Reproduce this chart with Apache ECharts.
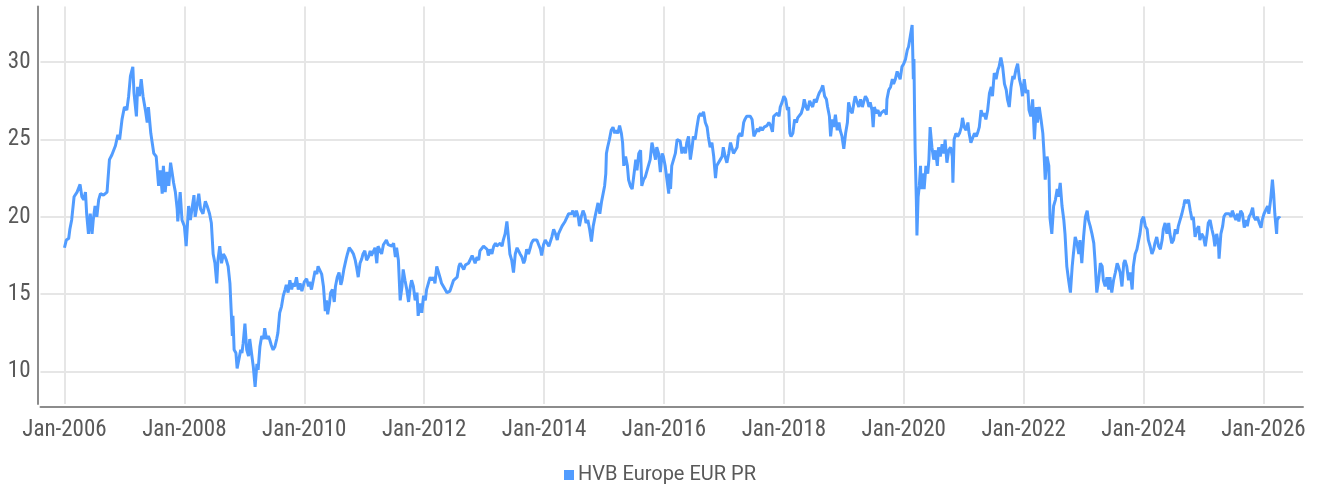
<!DOCTYPE html>
<html>
<head>
<meta charset="utf-8">
<script src="https://cdn.jsdelivr.net/npm/echarts@6/dist/echarts.min.js"></script>
<style>
html,body{margin:0;padding:0;background:#fff;}
#chart{width:1318px;height:491px;}
</style>
</head>
<body>
<div id="chart"></div>
<script>
const dates = [
2006.00,2006.03,2006.07,2006.09,2006.12,2006.16,2006.21,2006.26,2006.29,2006.32,2006.35,2006.37,2006.40,2006.43,2006.46,2006.48,2006.51,2006.54,2006.57,2006.60,2006.65,2006.71,2006.75,2006.79,2006.85,2006.89,2006.92,2006.96,
2007.00,2007.04,2007.07,2007.10,2007.14,2007.16,2007.20,2007.22,2007.25,2007.28,2007.31,2007.35,2007.38,2007.40,2007.44,2007.49,2007.53,2007.57,2007.60,2007.63,2007.65,2007.68,2007.71,2007.74,2007.77,2007.79,2007.82,2007.85,2007.88,2007.89,2007.93,2007.96,
2008.00,2008.03,2008.07,2008.10,2008.16,2008.18,2008.21,2008.24,2008.27,2008.31,2008.35,2008.38,2008.42,2008.45,2008.48,2008.51,2008.54,2008.56,2008.59,2008.62,2008.65,2008.68,2008.70,2008.73,2008.76,2008.78,2008.80,2008.81,2008.83,2008.86,2008.88,2008.91,2008.94,2008.96,2008.98,
2009.01,2009.04,2009.07,2009.09,2009.12,2009.15,2009.18,2009.21,2009.23,2009.26,2009.29,2009.32,2009.34,2009.37,2009.40,2009.42,2009.45,2009.48,2009.51,2009.54,2009.56,2009.59,2009.62,2009.65,2009.68,2009.70,2009.73,2009.76,2009.79,2009.81,2009.84,2009.87,2009.90,2009.93,2009.96,
2010.00,2010.04,2010.07,2010.09,2010.12,2010.15,2010.18,2010.21,2010.23,2010.26,2010.29,2010.32,2010.35,2010.37,2010.39,2010.42,2010.44,2010.47,2010.50,2010.52,2010.55,2010.58,2010.61,2010.63,2010.66,2010.70,2010.72,2010.75,2010.79,2010.82,2010.85,2010.87,2010.90,2010.93,2010.96,2010.98,
2011.01,2011.04,2011.07,2011.10,2011.12,2011.15,2011.18,2011.21,2011.23,2011.26,2011.29,2011.32,2011.35,2011.37,2011.40,2011.46,2011.49,2011.52,2011.54,2011.57,2011.60,2011.63,2011.65,2011.68,2011.71,2011.74,2011.77,2011.79,2011.82,2011.85,2011.88,2011.90,2011.93,2011.96,2011.99,
2012.02,2012.04,2012.07,2012.10,2012.13,2012.16,2012.18,2012.21,2012.24,2012.27,2012.29,2012.32,2012.35,2012.38,2012.41,2012.43,2012.46,2012.49,2012.52,2012.55,2012.58,2012.60,2012.63,2012.66,2012.69,2012.71,2012.74,2012.77,2012.80,2012.82,2012.85,2012.88,2012.91,2012.93,2012.96,2012.99,
2013.02,2013.05,2013.07,2013.10,2013.13,2013.16,2013.19,2013.21,2013.24,2013.27,2013.30,2013.32,2013.35,2013.38,2013.41,2013.43,2013.46,2013.49,2013.52,2013.55,2013.57,2013.60,2013.63,2013.66,2013.68,2013.71,2013.74,2013.77,2013.79,2013.82,2013.85,2013.88,2013.91,2013.94,2013.96,2013.99,
2014.02,2014.05,2014.08,2014.10,2014.13,2014.16,2014.19,2014.22,2014.24,2014.27,2014.30,2014.33,2014.35,2014.38,2014.41,2014.46,2014.48,2014.51,2014.54,2014.57,2014.59,2014.62,2014.65,2014.68,2014.70,2014.73,2014.76,2014.79,2014.82,2014.85,2014.87,2014.90,2014.93,2014.96,2014.98,
2015.01,2015.03,2015.04,2015.06,2015.09,2015.12,2015.15,2015.18,2015.20,2015.23,2015.26,2015.29,2015.31,2015.33,2015.36,2015.39,2015.41,2015.44,2015.47,2015.50,2015.53,2015.55,2015.58,2015.61,2015.63,2015.66,2015.69,2015.71,2015.74,2015.77,2015.80,2015.83,2015.86,2015.88,2015.91,2015.94,2015.97,2015.99,
2016.02,2016.05,2016.08,2016.09,2016.11,2016.13,2016.16,2016.19,2016.22,2016.24,2016.27,2016.30,2016.33,2016.36,2016.38,2016.41,2016.44,2016.47,2016.49,2016.52,2016.55,2016.58,2016.61,2016.63,2016.66,2016.69,2016.72,2016.74,2016.77,2016.80,2016.83,2016.86,2016.88,2016.91,2016.94,2016.97,2016.99,
2017.02,2017.05,2017.08,2017.11,2017.13,2017.16,2017.19,2017.22,2017.24,2017.27,2017.30,2017.33,2017.35,2017.38,2017.41,2017.44,2017.47,2017.50,2017.53,2017.56,2017.58,2017.61,2017.64,2017.67,2017.69,2017.72,2017.75,2017.78,2017.81,2017.83,2017.86,2017.89,2017.92,2017.94,2017.97,
2018.00,2018.03,2018.06,2018.08,2018.10,2018.12,2018.15,2018.18,2018.21,2018.23,2018.26,2018.29,2018.32,2018.34,2018.37,2018.40,2018.43,2018.46,2018.48,2018.51,2018.54,2018.57,2018.59,2018.62,2018.65,2018.68,2018.71,2018.73,2018.76,2018.78,2018.81,2018.83,2018.86,2018.89,2018.92,2018.94,2018.97,
2019.00,2019.03,2019.06,2019.08,2019.11,2019.14,2019.17,2019.19,2019.22,2019.25,2019.28,2019.31,2019.33,2019.36,2019.39,2019.42,2019.44,2019.47,2019.49,2019.51,2019.54,2019.57,2019.60,2019.62,2019.65,2019.68,2019.71,2019.72,2019.75,2019.78,2019.81,2019.83,2019.86,2019.89,2019.92,2019.94,2019.97,
2020.00,2020.03,2020.06,2020.08,2020.11,2020.14,2020.16,2020.17,2020.18,2020.19,2020.21,2020.22,2020.24,2020.26,2020.28,2020.29,2020.31,2020.34,2020.37,2020.40,2020.42,2020.44,2020.47,2020.50,2020.53,2020.56,2020.58,2020.61,2020.64,2020.67,2020.69,2020.72,2020.75,2020.78,2020.81,2020.82,2020.84,2020.87,2020.90,2020.93,2020.96,2020.98,
2021.01,2021.04,2021.07,2021.09,2021.12,2021.15,2021.18,2021.21,2021.23,2021.26,2021.29,2021.32,2021.34,2021.37,2021.40,2021.43,2021.46,2021.48,2021.51,2021.54,2021.57,2021.59,2021.62,2021.65,2021.68,2021.71,2021.73,2021.76,2021.79,2021.82,2021.84,2021.87,2021.90,2021.93,2021.96,2021.98,
2022.01,2022.04,2022.07,2022.09,2022.12,2022.15,2022.18,2022.21,2022.23,2022.26,2022.29,2022.32,2022.34,2022.36,2022.39,2022.42,2022.44,2022.47,2022.50,2022.53,2022.56,2022.58,2022.61,2022.64,2022.67,2022.69,2022.72,2022.75,2022.78,2022.81,2022.83,2022.86,2022.89,2022.92,2022.94,2022.97,
2023.00,2023.03,2023.06,2023.08,2023.11,2023.14,2023.17,2023.19,2023.22,2023.25,2023.28,2023.31,2023.33,2023.36,2023.39,2023.42,2023.44,2023.47,2023.50,2023.53,2023.56,2023.58,2023.61,2023.64,2023.67,2023.69,2023.72,2023.75,2023.78,2023.81,2023.83,2023.86,2023.89,2023.92,2023.94,2023.97,
2024.00,2024.03,2024.06,2024.08,2024.11,2024.14,2024.17,2024.19,2024.22,2024.25,2024.28,2024.31,2024.33,2024.36,2024.39,2024.42,2024.44,2024.47,2024.50,2024.53,2024.56,2024.58,2024.61,2024.64,2024.67,2024.69,2024.72,2024.75,2024.78,2024.81,2024.83,2024.86,2024.89,2024.92,2024.94,2024.97,
2025.00,2025.03,2025.06,2025.08,2025.11,2025.14,2025.17,2025.19,2025.22,2025.25,2025.26,2025.29,2025.32,2025.34,2025.37,2025.40,2025.43,2025.46,2025.48,2025.51,2025.54,2025.57,2025.59,2025.62,2025.65,2025.68,2025.71,2025.73,2025.76,2025.79,2025.82,2025.84,2025.87,2025.90,2025.93,2025.96,2025.98,
2026.01,2026.04,2026.07,2026.09,2026.12,2026.15,2026.17,2026.19,2026.22,2026.23,2026.26,2026.27
];
// Index level at each point
const values = [
18.0,18.5,18.6,19.2,19.8,21.3,21.6,22.1,21.3,21.1,21.6,20.2,18.9,20.2,18.9,19.8,20.7,20.0,21.1,21.5,21.4,21.6,23.7,24.0,24.6,25.3,25.0,26.3,
27.1,26.9,27.8,29.1,29.7,28.0,26.5,28.4,27.8,28.9,27.8,26.9,26.1,27.1,25.4,24.1,23.9,22.0,23.0,21.5,23.3,21.6,22.9,22.0,23.5,23.0,22.2,21.6,20.5,19.7,21.6,19.8,
19.4,18.1,20.7,19.8,21.4,20.0,20.7,21.5,20.5,20.2,21.0,20.7,20.2,19.6,17.6,17.0,15.7,17.2,18.1,17.0,17.6,17.4,17.2,16.8,15.7,14.0,12.3,13.6,11.4,11.2,10.2,10.8,11.4,11.2,11.8,
13.1,11.4,11.0,12.1,11.2,10.3,9.0,10.5,10.1,11.6,12.3,12.1,12.8,12.1,12.3,12.1,11.7,11.4,11.6,12.1,12.5,13.8,14.2,14.9,15.3,15.6,15.1,15.9,15.3,15.7,15.5,16.1,15.3,15.7,15.2,
15.8,16.0,15.5,15.8,15.3,15.9,16.5,16.3,16.8,16.7,16.3,15.5,13.9,14.6,13.7,14.4,15.1,15.3,14.5,15.5,16.1,16.4,15.6,15.9,16.6,17.3,17.6,18.0,17.8,17.6,17.2,16.8,16.1,17.0,17.3,17.6,
17.8,17.2,17.4,17.8,17.5,17.6,18.0,17.0,18.1,18.2,17.6,18.2,18.1,18.5,18.2,18.1,18.3,17.4,18.0,17.2,14.6,15.5,16.6,15.9,15.3,14.5,15.5,15.9,15.5,14.6,15.1,13.6,14.4,13.8,14.9,
14.6,15.3,15.7,16.1,15.9,16.1,15.7,16.8,16.4,16.0,15.7,15.6,15.3,15.1,15.1,15.2,15.3,15.9,16.0,16.1,16.8,17.0,16.8,16.6,16.9,16.8,17.0,17.0,17.5,17.4,17.0,17.4,17.2,17.8,17.9,18.1,
18.2,17.9,17.5,17.9,17.6,18.1,18.3,18.1,18.1,18.3,18.1,18.5,18.9,19.7,18.5,17.6,17.2,16.4,17.6,18.0,18.1,17.6,17.4,17.0,17.2,17.9,17.6,18.0,18.3,18.5,18.6,18.5,18.2,17.9,17.5,18.2,
18.5,18.4,18.1,18.0,18.7,19.2,18.9,18.5,18.9,19.0,19.4,19.5,19.7,19.8,20.2,20.2,20.4,20.0,20.4,20.0,19.4,20.0,20.4,20.1,19.6,19.8,19.2,18.4,19.4,20.0,19.9,20.9,20.2,21.0,21.1,
22.0,22.8,24.1,24.5,25.0,25.6,25.8,25.4,25.6,25.4,25.9,25.4,24.8,23.3,23.9,23.3,22.4,22.0,21.8,21.8,23.7,23.0,24.1,24.3,22.0,22.4,22.6,22.6,23.3,23.7,24.8,24.8,23.7,24.5,24.1,22.9,24.1,23.9,
23.3,22.4,21.5,22.8,21.8,23.3,23.4,24.1,25.0,25.0,24.9,24.1,24.5,24.1,24.8,25.2,23.7,24.5,25.2,25.0,25.8,26.5,26.7,26.5,26.8,26.1,25.8,25.2,24.5,24.8,23.9,22.5,23.3,23.3,23.7,23.9,24.5,
23.9,23.5,24.1,24.8,24.8,24.1,24.2,24.5,25.2,25.4,25.2,26.1,26.3,26.5,26.5,26.5,26.3,25.2,25.2,25.7,25.5,25.8,25.6,25.8,25.7,25.9,26.1,25.9,25.5,26.5,26.6,26.7,26.5,27.1,27.4,
27.8,27.6,26.9,27.1,25.4,25.2,25.4,26.3,26.1,26.4,26.5,26.7,27.1,27.6,27.1,26.9,27.5,27.6,27.1,27.6,27.4,27.8,28.0,28.2,28.5,27.8,27.6,27.1,26.5,25.2,26.3,25.8,26.6,25.6,26.1,25.6,25.2,
24.4,25.4,26.1,27.4,26.9,26.7,27.4,27.8,27.9,27.1,27.6,27.1,27.4,27.8,27.6,27.1,27.4,26.9,25.8,27.1,26.7,26.9,26.5,26.7,26.7,26.9,26.6,27.6,28.2,28.4,28.9,28.6,28.9,29.4,29.3,28.9,29.7,
29.9,30.2,30.8,31.0,31.7,32.4,28.9,30.2,26.9,24.3,21.1,18.8,21.3,22.0,23.3,21.8,22.8,21.8,23.3,22.8,23.7,25.8,24.5,23.7,24.3,23.3,24.5,23.9,24.7,24.1,25.0,23.5,24.3,24.5,23.9,22.2,25.0,25.4,25.2,25.4,25.8,26.4,
25.8,25.6,26.1,25.4,24.8,24.8,25.4,25.2,25.4,25.8,26.9,26.5,26.7,26.3,26.9,28.0,28.4,27.8,29.3,28.9,29.5,29.7,30.3,29.7,28.6,28.2,27.6,27.1,28.4,29.1,28.9,29.5,29.9,28.9,28.4,27.8,
28.9,28.0,28.2,26.9,26.5,27.6,25.0,27.1,26.1,27.1,26.3,25.4,24.1,22.4,23.9,23.3,19.9,18.9,20.7,21.1,21.8,21.3,22.2,20.7,19.8,18.9,16.8,15.9,15.1,16.8,17.6,18.7,18.3,17.6,18.5,17.0,
18.7,20.0,20.4,19.8,19.4,18.9,18.3,17.2,15.1,15.9,17.0,16.8,15.9,15.5,16.1,15.3,16.1,15.1,15.9,16.4,17.0,16.8,16.4,15.5,17.0,17.2,16.8,15.9,16.4,15.3,16.8,17.6,17.9,18.5,18.9,19.8,
20.0,19.4,19.2,18.5,18.1,17.6,17.9,18.3,18.7,18.1,17.9,18.5,19.2,19.6,18.9,19.6,18.9,18.3,18.5,19.2,18.9,19.4,19.8,20.2,20.7,21.1,20.9,21.1,20.4,19.8,20.0,18.7,19.2,19.4,18.5,18.9,
18.7,18.1,18.9,19.6,19.8,19.2,18.7,18.1,18.9,18.2,17.3,18.9,19.4,20.0,20.2,20.1,20.2,20.0,20.4,20.4,19.8,20.2,19.7,20.4,20.2,19.3,19.8,19.4,20.0,20.2,20.6,20.0,19.8,20.0,19.6,19.3,19.8,
20.2,20.2,20.7,20.2,21.1,22.4,21.5,20.2,18.9,19.8,20.0,19.9
];
const seriesName = 'HVB Europe EUR PR';
const xTickPrefix = 'Jan-';

const font = "'Roboto Condensed','Liberation Sans Narrow','DejaVu Sans Condensed',sans-serif";
const legendFont = "Roboto,'Noto Sans',sans-serif";
const chart = echarts.init(document.getElementById('chart'), null, {renderer: 'canvas'});
const data = dates.map((d, i) => [d, values[i]]);

chart.setOption({
  animation: false,
  grid: {left: 40.5, right: 15, top: 6.5, bottom: 87, containLabel: false},
  xAxis: {
    type: 'value', min: 2005.6, max: 2026.66, splitNumber: 10, minInterval: 2, maxInterval: 2,
    offset: 3,
    axisLine: {show: true, onZero: false, lineStyle: {color: '#8c8c8c', width: 2}},
    axisTick: {show: false},
    axisLabel: {
      formatter: v => xTickPrefix + Math.round(v),
      showMinLabel: false, showMaxLabel: false,
      color: '#595959', fontSize: 23, fontFamily: font, margin: 12
    },
    splitLine: {show: true, showMinLine: false, showMaxLine: false, lineStyle: {color: '#e6e6e6', width: 2}}
  },
  yAxis: {
    type: 'value', min: 7.9, max: 33.6, splitNumber: 5, minInterval: 5, maxInterval: 5,
    offset: 3,
    axisLine: {show: true, lineStyle: {color: '#8c8c8c', width: 2}},
    axisTick: {show: false},
    axisLabel: {
      showMinLabel: false, showMaxLabel: false,
      color: '#595959', fontSize: 23, fontFamily: font, margin: 7
    },
    splitLine: {show: true, showMinLine: false, showMaxLine: false, lineStyle: {color: '#e6e6e6', width: 2}}
  },
  legend: {
    left: 564, top: 465, icon: 'rect', itemWidth: 10, itemHeight: 10, itemGap: 10, padding: 0,
    textStyle: {color: '#595959', fontSize: 20, fontFamily: legendFont, padding: [0, 0, 0, -1]},
    data: [seriesName]
  },
  series: [{
    name: seriesName, type: 'line', data: data, showSymbol: false, symbol: 'none',
    lineStyle: {color: '#519cff', width: 3}, itemStyle: {color: '#519cff'}
  }]
});
</script>
</body>
</html>
